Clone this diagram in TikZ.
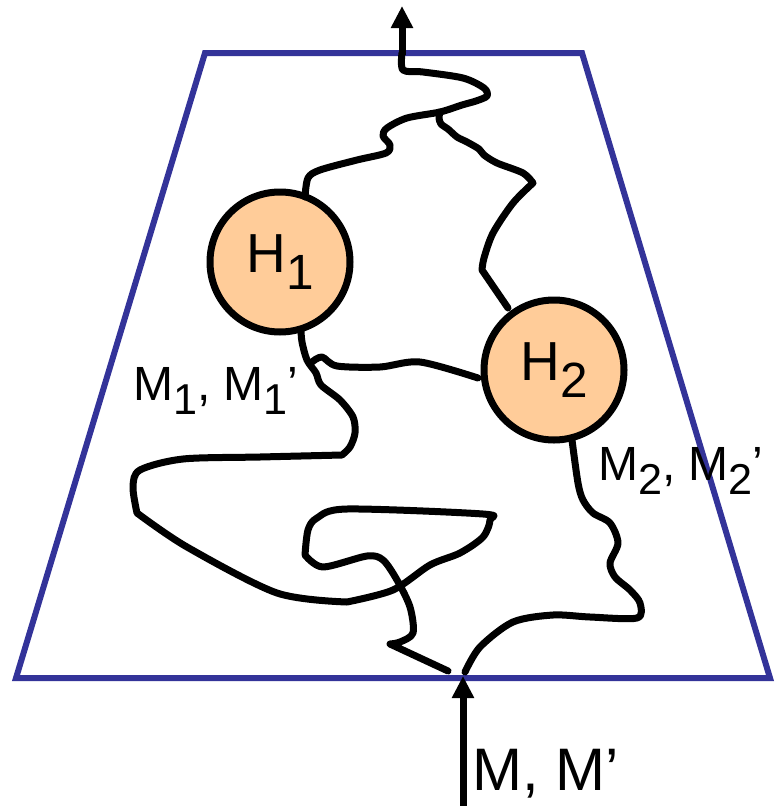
\documentclass[tikz,border=0pt]{standalone}
\usepackage{fontspec}
\setmainfont{Liberation Sans}
\usetikzlibrary{arrows.meta}
\definecolor{trapblue}{RGB}{51,51,153}
\definecolor{hfill}{RGB}{255,204,153}
\newcommand{\sbs}[1]{\raisebox{-0.3em}{\scalebox{0.9}{#1}}}
\tikzset{
  chain/.style={line width=7pt, line join=round, line cap=round, black},
  hnode/.style={circle, draw=black, line width=7pt, fill=hfill, minimum size=140pt, inner sep=0pt, font=\fontsize{55}{55}\selectfont},
  lbl/.style={anchor=base west, inner sep=0pt, font=\fontsize{48}{48}\selectfont},
  bigarrow/.style={line width=7pt, -{Triangle[width=21pt,length=22pt]}},
}
\begin{document}
\begin{tikzpicture}[x=1pt,y=-1pt]
\useasboundingbox (0,0) rectangle (775,806);
% trapezoid
\draw[trapblue, line width=6pt, line join=miter] (205,53) -- (582,53) -- (770,678) -- (16,678) -- cycle;
% nodes
\node[hnode] (H1) at (280,262) {H\sbs{1}};
\node[hnode] (H2) at (554,370) {H\sbs{2}};
% coordinates
\coordinate (topin) at (402,55);
\coordinate (topout) at (402,6);
\coordinate (botin) at (463,806);
\coordinate (botout) at (463,676);
% arrows
\draw[bigarrow] (topin) -- (topout);
\draw[bigarrow] (botin) -- (botout);
% path A: top to H1
\draw[chain] plot[smooth, tension=0.5] coordinates {(402,53) (403,70) (423,72) (463,78) (484,88) (487,96) (476,101) (462,105) (440,112) (407,118) (387,128) (383,136) (390,145) (386,153) (357,160) (320,170) (308,178) (305,197)};
% path B: branch to H2
\draw[chain] plot[smooth, tension=0.5] coordinates {(440,112) (439,118) (441,124) (448,129) (457,137) (467,142) (479,149) (484,155) (497,163) (523,173) (533,183)}
  plot[smooth, tension=0.5] coordinates {(533,183) (513,203) (493,233) (484,258) (482,270)} -- (508,308);
% path C: H1 bottom to bottom edge
\draw[chain] plot[smooth, tension=0.5] coordinates {(301,330) (302,342) (307,360) (316,373) (321,385) (340,400) (353,417) (355,433) (350,447) (342,455)}
  plot[smooth, tension=0.5] coordinates {(342,455) (260,457) (183,459) (140,470) (133,487) (137,513)}
  plot[smooth, tension=0.5] coordinates {(137,513) (187,547) (277,593) (347,602)}
  plot[smooth, tension=0.5] coordinates {(347,602) (393,590) (430,565) (460,553) (483,537) (490,520) (483,514) (347,509) (317,518) (308,530) (305,555)}
  plot[smooth, tension=0.5] coordinates {(305,555) (323,567) (367,556) (383,560) (397,580) (410,607) (413,633) (400,642) (390,644)}
  -- (448,671);
% path D: branch to H2
\draw[chain] plot[smooth, tension=0.5] coordinates {(312,362) (322,357) (337,366) (380,367) (420,362) (478,378)};
% path E: bottom to H2
\draw[chain] plot[smooth, tension=0.5] coordinates {(465,672) (480,647) (513,622) (553,615) (590,617) (637,618) (640,603) (630,590) (615,577) (610,563) (618,543) (610,523) (593,513) (583,500) (578,483) (572,440)};
% labels
\node[lbl] (L1) at (133,400) {M\sbs{1}, M\sbs{1}’};
\node[lbl] (L2) at (598,480) {M\sbs{2}, M\sbs{2}’};
\node[lbl, font=\fontsize{60}{60}\selectfont] (L0) at (472,790) {M, M’};
\end{tikzpicture}
\end{document}
